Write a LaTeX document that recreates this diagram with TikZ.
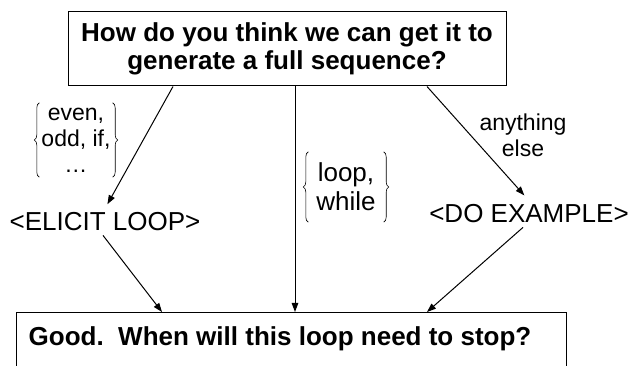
\documentclass[tikz,border=0pt]{standalone}
\usepackage{fontspec}
\setmainfont{Liberation Sans}
\usetikzlibrary{arrows.meta,decorations.pathreplacing}
\begin{document}
\begin{tikzpicture}[x=1pt,y=1pt,
  arr/.style={line width=1pt,-{Triangle[length=9pt,width=6.5pt]}},
  qbox/.style={draw,line width=1pt,align=center,font=\fontsize{26}{28}\selectfont\bfseries,inner sep=0pt},
  step label/.style={inner sep=4pt,font=\fontsize{26}{28}\selectfont},
  cond/.style={align=center,inner sep=0pt,font=\fontsize{23}{26}\selectfont},
  bracel/.style={decorate,decoration={brace,amplitude=5pt},line width=0.6pt},
]
\useasboundingbox[fill=white] (0,0) rectangle (630,-366);
% top question
\node[qbox,minimum width=438pt,minimum height=74pt] (top) at (287,-49)
  {How do you think we can get it to\\generate a full sequence?};
% bottom question (box runs off the bottom edge)
\begin{scope}
\clip (0,0) rectangle (630,-366);
\node[draw,line width=1pt,minimum width=550pt,minimum height=120pt,anchor=north,inner sep=0pt] (bot) at (291,-312) {};
\end{scope}
\node[font=\fontsize{26}{28}\selectfont\bfseries,inner sep=0pt] (msg) at (280,-339) {Good.~~When will this loop need to stop?};
% middle steps
\node[step label] (elicit) at (105,-222) {<ELICIT LOOP>};
\node[step label] (doex) at (529,-214) {<DO EXAMPLE>};
% condition labels
\node[cond,minimum width=73pt,minimum height=74pt] (c1) at (76,-140) {even,\\odd, if,\\…};
\draw[bracel] (c1.south west) -- (c1.north west);
\draw[bracel] (c1.north east) -- (c1.south east);
\node[cond,font=\fontsize{26}{29}\selectfont,minimum width=75pt,minimum height=70pt] (c2) at (346,-187) {loop,\\while};
\draw[bracel] (c2.south west) -- (c2.north west);
\draw[bracel] (c2.north east) -- (c2.south east);
\node[cond] (c3) at (523,-135) {anything\\else};
% connectors
\draw[arr,shorten >=5pt] ([xshift=-114pt]top.south) -- (elicit.north);
\draw[arr,shorten >=7pt] ([xshift=140pt]top.south) -- (doex.north);
\draw[arr] ([xshift=8pt]top.south) -- ([xshift=8pt]top.south |- bot.north);
\draw[arr] ([xshift=-2pt]elicit.south) -- (bot.north -| 162,0);
\draw[arr] ([xshift=-6pt]doex.south) -- (bot.north -| 427,0);
\end{tikzpicture}
\end{document}
